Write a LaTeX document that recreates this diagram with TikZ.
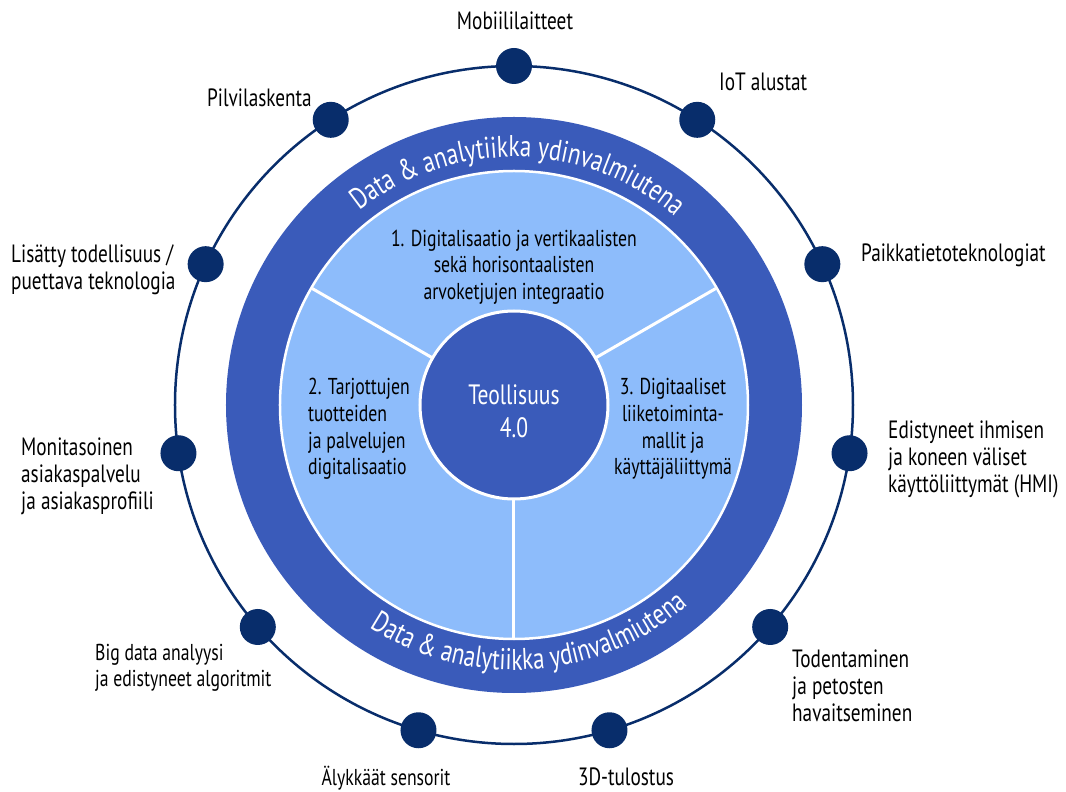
\documentclass[tikz,border=0pt]{standalone}
\usepackage{fontspec}
\setmainfont[FakeStretch=0.77]{PT Sans}
\usetikzlibrary{decorations.text}
\definecolor{ringblue}{RGB}{58,91,186}
\definecolor{paleblue}{RGB}{141,188,251}
\definecolor{navy}{RGB}{8,45,107}
\newcommand{\ringtextfont}{\fontsize{30}{30}\selectfont}
\begin{document}
\begin{tikzpicture}[x=1pt,y=1pt,
  outerlabel/.style={font=\fontsize{25}{27}\selectfont, text=black, inner sep=0pt, align=left},
  smalllabel/.style={font=\fontsize{23}{26}\selectfont, text=black, inner sep=0pt, align=left},
  sectortext/.style={font=\fontsize{23}{26.7}\selectfont, text=black, inner sep=0pt},
  orbitdot/.style={circle, fill=navy, minimum size=36, inner sep=0pt},
  divider/.style={white, line width=3}
]
\useasboundingbox (-514,-387) rectangle (552,405);

% orbit carrying the technology dots
\draw[navy, line width=2.5] (0,0) circle[radius=339];

% outer ring and pale disc
\fill[ringblue] (0,0) circle[radius=288];
\filldraw[fill=paleblue, draw=white, line width=2.5] (0,0) circle[radius=234];

% sector dividers
\draw[divider] (30:93) -- (30:233);
\draw[divider] (150:93) -- (150:233);
\draw[divider] (270:93) -- (270:233);

% core
\node[circle, fill=ringblue, draw=white, line width=3, minimum size=188, inner sep=0pt] (core) at (0,0) {};
\node[font=\fontsize{28}{33}\selectfont, text=white, align=center, inner sep=0pt] (coretext) at (0,-6) {Teollisuus\\4.0};

% curved ring captions
\path[decorate, decoration={text along path, text align=center, text color=white,
  text={|\ringtextfont|Data {\&} analytiikka ydinvalmiutena}}]
  (149:248) arc[start angle=149, end angle=29, radius=248];
\path[decorate, decoration={text along path, text align=center, text color=white,
  text={|\ringtextfont|Data {\&} analytiikka ydinvalmiutena}}]
  (-146:265) arc[start angle=-146, end angle=-26, radius=265];

% sector texts
\node[sectortext, align=center] (s1) at (0,138) {1. Digitalisaatio ja vertikaalisten\\sekä horisontaalisten\\arvoketjujen integraatio};
\node[sectortext, align=left, anchor=west] (s2) at (-206,-24) {2. Tarjottujen\\tuotteiden\\ja palvelujen\\digitalisaatio};
\node[sectortext, align=center] (s3) at (159,-24) {3. Digitaaliset\\liiketoiminta-\\mallit ja\\käyttäjäliittymä};

% dots on the orbit
\foreach \i/\nm in {0/dmob,1/diot,2/dpaikka,3/dhmi,4/dtod,5/d3d,6/dsens,7/dbig,8/dmoni,9/dar,10/dpilvi}
  \node[orbitdot] (\nm) at ({90-\i*360/11}:339) {};

% technology labels
\node[outerlabel] (lmob) at (1,384) {Mobiililaitteet};
\node[outerlabel, anchor=west] (liot) at (205,323) {IoT alustat};
\node[outerlabel, anchor=west] (lpaikka) at (347,150) {Paikkatietoteknologiat};
\node[outerlabel, anchor=west] (lhmi) at (374,-54) {Edistyneet ihmisen\\ja koneen väliset\\käyttöliittymät (HMI)};
\node[outerlabel, anchor=west] (ltod) at (278,-281) {Todentaminen\\ja petosten\\havaitseminen};
\node[outerlabel] (l3d) at (112,-372) {3D-tulostus};
\node[smalllabel] (lsens) at (-128,-373) {Älykkäät sensorit};
\node[smalllabel, anchor=west] (lbig) at (-419,-263) {Big data analyysi\\ja edistyneet algoritmit};
\node[outerlabel, anchor=west] (lmoni) at (-493,-71) {Monitasoinen\\asiakaspalvelu\\ja asiakasprofiili};
\node[outerlabel, anchor=west] (lar) at (-503,135) {Lisätty todellisuus /\\puettava teknologia};
\node[outerlabel, anchor=east] (lpilvi) at (-202,307) {Pilvilaskenta};
\end{tikzpicture}
\end{document}
